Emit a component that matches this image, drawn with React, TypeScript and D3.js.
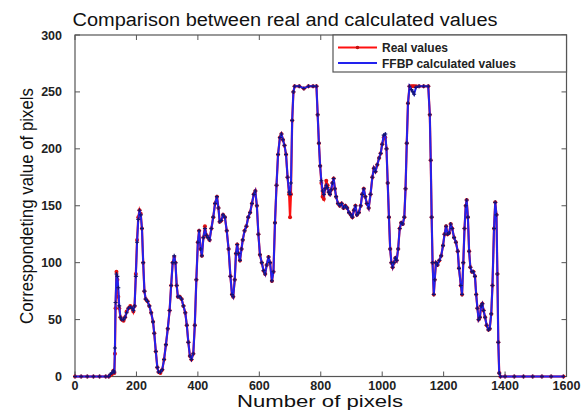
import React, { useRef, useEffect } from 'react';
import * as d3 from 'd3';

// sample positions (pixel index) and the two series
const pixelIdx = [0, 20, 40, 60, 80, 100, 110, 115, 120, 125, 128, 130, 132, 135, 138, 141, 144, 148, 152, 158, 163, 168, 174, 180, 186, 190, 194, 198, 202, 206, 210, 214, 218, 222, 226, 230, 236, 242, 248, 254, 258, 263, 268, 272, 278, 284, 290, 296, 302, 308, 313, 318, 323, 327, 331, 335, 341, 347, 353, 359, 364, 369, 374, 379, 385, 390, 395, 400, 404, 409, 413, 418, 423, 428, 433, 438, 444, 450, 456, 462, 467, 471, 476, 482, 488, 494, 500, 506, 511, 515, 520, 524, 528, 532, 537, 542, 546, 552, 558, 564, 570, 576, 582, 587, 592, 597, 602, 608, 614, 619, 624, 630, 635, 641, 646, 651, 656, 661, 667, 672, 677, 682, 687, 692, 697, 700, 703, 707, 711, 715, 730, 745, 760, 775, 786, 790, 794, 798, 802, 806, 810, 814, 818, 822, 826, 830, 834, 838, 842, 846, 850, 856, 862, 868, 874, 880, 886, 892, 898, 903, 908, 913, 918, 924, 930, 935, 940, 945, 950, 956, 962, 968, 973, 978, 984, 990, 995, 1000, 1005, 1010, 1014, 1018, 1022, 1026, 1030, 1034, 1038, 1043, 1047, 1052, 1057, 1062, 1067, 1072, 1076, 1080, 1084, 1089, 1095, 1100, 1104, 1110, 1120, 1135, 1150, 1155, 1158, 1161, 1164, 1168, 1171, 1175, 1180, 1186, 1192, 1198, 1203, 1208, 1213, 1218, 1223, 1228, 1234, 1240, 1246, 1250, 1256, 1260, 1264, 1268, 1272, 1275, 1279, 1283, 1287, 1292, 1297, 1302, 1306, 1310, 1314, 1318, 1322, 1326, 1330, 1335, 1340, 1346, 1350, 1355, 1359, 1364, 1368, 1372, 1375, 1378, 1381, 1385, 1400, 1430, 1460, 1490, 1520, 1550, 1590];

const realValues = [0, 0, 0, 0, 0, 0, 0, 1, 2, 5, 3, 20, 60, 92, 85, 70, 60, 52, 50, 49, 52, 57, 60, 62, 60, 57, 62, 90, 120, 140, 146, 143, 130, 100, 75, 68, 66, 62, 56, 48, 38, 22, 8, 4, 3, 6, 15, 28, 42, 58, 80, 100, 105, 100, 80, 70, 70, 68, 62, 56, 45, 30, 18, 15, 20, 45, 85, 118, 128, 112, 106, 122, 132, 124, 122, 120, 130, 140, 152, 158, 148, 136, 137, 142, 140, 128, 112, 88, 72, 70, 85, 108, 116, 108, 102, 112, 120, 128, 132, 140, 144, 152, 160, 163, 150, 125, 107, 100, 93, 90, 98, 105, 100, 84, 92, 135, 168, 195, 210, 213, 208, 203, 195, 175, 160, 140, 160, 225, 250, 255, 255, 253, 255, 255, 255, 230, 205, 185, 170, 158, 156, 165, 172, 168, 162, 160, 164, 170, 174, 165, 158, 152, 150, 152, 148, 150, 148, 144, 142, 140, 146, 150, 142, 144, 150, 160, 165, 158, 152, 148, 160, 175, 183, 180, 186, 192, 196, 204, 210, 210, 200, 170, 140, 112, 100, 96, 100, 104, 102, 112, 130, 135, 134, 140, 165, 205, 240, 255, 255, 255, 255, 255, 255, 255, 255, 230, 190, 140, 100, 72, 85, 100, 98, 102, 106, 115, 125, 132, 125, 126, 134, 130, 122, 118, 110, 95, 80, 72, 100, 130, 150, 155, 140, 110, 96, 92, 92, 88, 72, 60, 50, 52, 62, 64, 58, 52, 45, 41, 42, 55, 80, 130, 153, 142, 90, 30, 3, 0, 0, 0, 0, 0, 0, 0, 0];

const ffbpValues = [0, 0, 0, 0, 0, 0, 0, 2, 3, 5, 4, 25, 65, 90, 88, 78, 62, 52, 50, 50, 52, 56, 60, 61, 60, 58, 62, 88, 118, 138, 146, 142, 130, 100, 75, 68, 66, 62, 56, 48, 38, 22, 8, 4, 4, 6, 15, 28, 42, 58, 80, 100, 106, 100, 80, 70, 70, 68, 62, 56, 45, 30, 18, 15, 20, 45, 85, 118, 128, 112, 106, 122, 130, 124, 122, 120, 130, 140, 152, 158, 148, 136, 137, 142, 140, 128, 112, 88, 72, 70, 85, 108, 116, 108, 102, 112, 120, 128, 132, 140, 144, 152, 160, 163, 150, 125, 107, 100, 93, 90, 98, 105, 100, 84, 92, 135, 168, 195, 210, 213, 208, 203, 195, 175, 162, 160, 170, 225, 250, 255, 255, 253, 255, 255, 255, 230, 205, 185, 172, 163, 160, 165, 168, 166, 162, 160, 164, 170, 174, 165, 158, 152, 150, 152, 148, 150, 148, 144, 142, 140, 146, 150, 142, 144, 150, 160, 165, 158, 152, 148, 160, 175, 183, 180, 186, 192, 196, 204, 212, 213, 200, 170, 140, 112, 100, 96, 100, 104, 102, 112, 130, 135, 134, 140, 165, 205, 240, 255, 252, 250, 248, 254, 255, 255, 255, 230, 190, 140, 100, 72, 85, 100, 98, 102, 106, 115, 125, 132, 125, 126, 134, 130, 122, 118, 110, 95, 80, 72, 100, 130, 150, 155, 140, 110, 96, 92, 92, 88, 72, 60, 50, 52, 62, 64, 58, 52, 45, 41, 42, 55, 80, 130, 153, 142, 90, 30, 3, 0, 0, 0, 0, 0, 0, 0, 0];

const xTicks = [0, 200, 400, 600, 800, 1000, 1200, 1400, 1600];
const yTicks = [0, 50, 100, 150, 200, 250, 300];
const legendLabels = ['Real values', 'FFBP calculated values'];

export default function App() {
    const svgRef = useRef(null);

    useEffect(() => {
        const svg = d3.select(svgRef.current);
        svg.selectAll('*').remove();

        const width = 588, height = 410;
        const margin = { top: 35, right: 21.5, bottom: 33.5, left: 75 };
        const x = d3.scaleLinear().domain([0, 1600]).range([margin.left, width - margin.right]);
        const y = d3.scaleLinear().domain([0, 300]).range([height - margin.bottom, margin.top]);

        svg.append('rect').attr('width', width).attr('height', height).attr('fill', '#fff');

        // frame
        svg.append('rect')
            .attr('x', x(0)).attr('y', y(300))
            .attr('width', x(1600) - x(0)).attr('height', y(0) - y(300))
            .attr('fill', 'none').attr('stroke', '#555').attr('stroke-width', 1.2);

        // ticks inside on all four sides
        const tl = 5;
        const tickG = svg.append('g').attr('stroke', '#555').attr('stroke-width', 1);
        xTicks.forEach(t => {
            tickG.append('line').attr('x1', x(t)).attr('x2', x(t)).attr('y1', y(0)).attr('y2', y(0) - tl);
            tickG.append('line').attr('x1', x(t)).attr('x2', x(t)).attr('y1', y(300)).attr('y2', y(300) + tl);
        });
        yTicks.forEach(t => {
            tickG.append('line').attr('x1', x(0)).attr('x2', x(0) + tl).attr('y1', y(t)).attr('y2', y(t));
            tickG.append('line').attr('x1', x(1600)).attr('x2', x(1600) - tl).attr('y1', y(t)).attr('y2', y(t));
        });

        const font = 'Liberation Sans, Arial, sans-serif';
        svg.append('g').selectAll('text').data(xTicks).join('text')
            .attr('x', d => x(d)).attr('y', y(0) + 13.5)
            .attr('text-anchor', 'middle').attr('font-family', font)
            .attr('font-weight', 'bold').attr('font-size', 12.5).attr('fill', '#222')
            .text(d => d);
        svg.append('g').selectAll('text').data(yTicks).join('text')
            .attr('x', x(0) - 13).attr('y', d => y(d) + 4.5)
            .attr('text-anchor', 'end').attr('font-family', font)
            .attr('font-weight', 'bold').attr('font-size', 12.5).attr('fill', '#222')
            .text(d => d);

        // titles
        svg.append('text')
            .attr('x', 285).attr('y', 26).attr('text-anchor', 'middle')
            .attr('font-family', font).attr('font-size', 18).attr('fill', '#111')
            .attr('textLength', 425).attr('lengthAdjust', 'spacingAndGlyphs')
            .text('Comparison between real and calculated values');
        svg.append('text')
            .attr('x', 320).attr('y', 406.5).attr('text-anchor', 'middle')
            .attr('font-family', font).attr('font-size', 17).attr('fill', '#111')
            .attr('textLength', 166).attr('lengthAdjust', 'spacingAndGlyphs')
            .text('Number of pixels');
        svg.append('text')
            .attr('transform', `translate(33, 206) rotate(-90)`).attr('text-anchor', 'middle')
            .attr('font-family', font).attr('font-size', 18).attr('fill', '#111')
            .attr('textLength', 236).attr('lengthAdjust', 'spacingAndGlyphs')
            .text('Correspondeting value of pixels');

        const rows = pixelIdx.map((p, i) => ({ p, real: realValues[i], calc: ffbpValues[i] }));
        const plot = svg.append('g');

        // real values (red, dot markers)
        plot.append('path').datum(rows)
            .attr('fill', 'none').attr('stroke', '#ff1010').attr('stroke-width', 2.2)
            .attr('d', d3.line<any>().x(d => x(d.p)).y(d => y(d.real)));
        plot.append('g').selectAll('circle').data(rows).join('circle')
            .attr('cx', d => x(d.p)).attr('cy', d => y(d.real)).attr('r', 2).attr('fill', '#e01010');

        // FFBP calculated values (blue, + markers)
        plot.append('path').datum(rows)
            .attr('fill', 'none').attr('stroke', '#2222ee').attr('stroke-width', 2)
            .attr('d', d3.line<any>().x(d => x(d.p)).y(d => y(d.calc)));
        plot.append('g').selectAll('path').data(rows).join('path')
            .attr('d', d => `M${x(d.p) - 2},${y(d.calc)}h4M${x(d.p)},${y(d.calc) - 2}v4`)
            .attr('stroke', '#14146e').attr('stroke-width', 1.1);

        // legend
        const lg = svg.append('g');
        lg.append('rect').attr('x', 333).attr('y', y(300)).attr('width', x(1600) - 333).attr('height', 37)
            .attr('fill', '#fff').attr('stroke', '#555').attr('stroke-width', 1.2);
        const colors = ['#ff1010', '#2222ee'];
        legendLabels.forEach((label, i) => {
            const ly = 47.5 + i * 15.5;
            lg.append('line').attr('x1', 338).attr('x2', 377).attr('y1', ly).attr('y2', ly)
                .attr('stroke', colors[i]).attr('stroke-width', 2);
            if (i === 0) lg.append('circle').attr('cx', 357.5).attr('cy', ly).attr('r', 1.8).attr('fill', '#c01010');
            lg.append('text').attr('x', 382).attr('y', ly + 4.5)
                .attr('font-family', font).attr('font-weight', 'bold').attr('font-size', 12)
                .attr('fill', '#222').text(label);
        });
    }, []);

    return (
        <svg ref={svgRef} width={588} height={410}
            style={{ position: 'absolute', left: 0, top: 0, display: 'block' }} />
    );
}
